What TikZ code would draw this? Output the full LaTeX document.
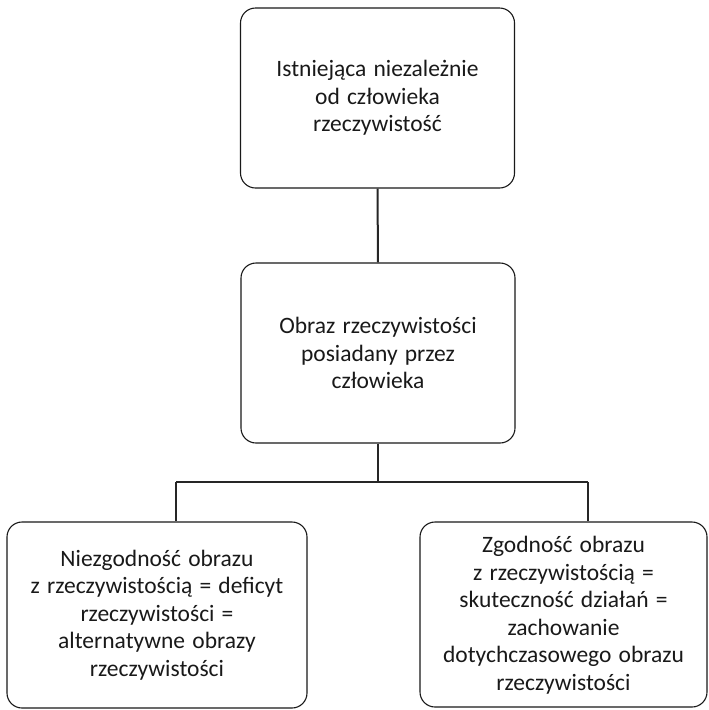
\documentclass[tikz,border=0pt]{standalone}
\usepackage{fontspec}
\setmainfont[WordSpace=1.35]{Carlito}
\begin{document}
\begin{tikzpicture}[x=1pt,y=-1pt,
  box/.style={draw=black!90, line width=1.1pt, rounded corners=15pt, align=center,
    font=\fontsize{23.5}{27.5}\selectfont, text=black!90, inner sep=0pt},
  txt/.style={align=center, font=\fontsize{23.5}{27.5}\selectfont, text=black!90, inner sep=0pt},
  conn/.style={line width=2pt, draw=black!85}]
\useasboundingbox (0,0) rectangle (709,710);
\node[box, minimum width=274pt, minimum height=180pt] (top) at (377.5,98)
  {Istniejąca niezależnie\\od człowieka\\rzeczywistość};
\node[box, minimum width=274pt, minimum height=180pt] (mid) at (378,353)
  {Obraz rzeczywistości\\posiadany przez\\człowieka};
\node[box, minimum width=300pt, minimum height=186pt] (bl) at (157,615)
  {Niezgodność obrazu\\z rzeczywistością = deficyt\\rzeczywistości =\\alternatywne obrazy\\rzeczywistości};
\node[box, minimum width=287pt, minimum height=185pt] (br) at (563.5,614.5) {};
\node[txt] (brt) at (563.5,615)
  {Zgodność obrazu\\z rzeczywistością =\\skuteczność działań =\\zachowanie\\dotychczasowego obrazu\\rzeczywistości};
\coordinate (jl) at (176,482);
\coordinate (jr) at (588,482);
\draw[conn] (top.south) -- (mid.north);
\draw[conn] (mid.south) -- (mid.south |- jl);
\draw[conn] (jl) -- (jr);
\draw[conn] (jl) -- (jl |- bl.north);
\draw[conn] (jr) -- (jr |- br.north);
\end{tikzpicture}
\end{document}
